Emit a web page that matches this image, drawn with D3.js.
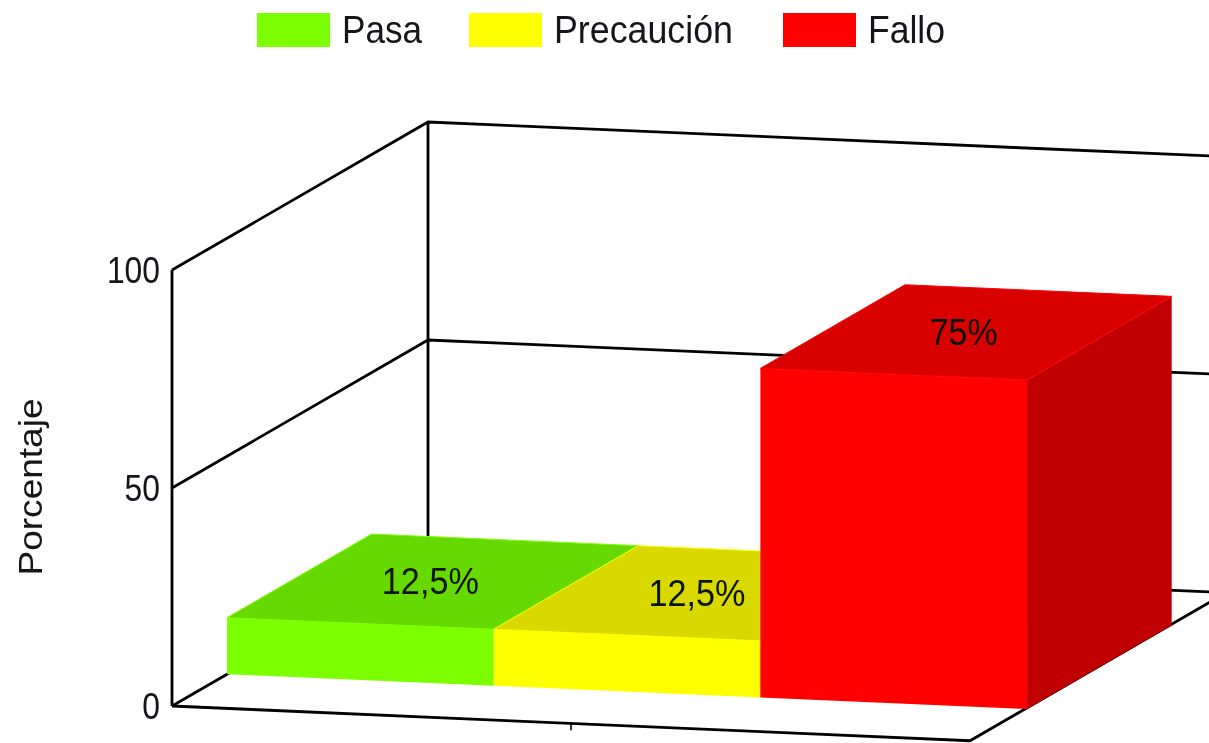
<!DOCTYPE html>
<html lang="es">
<head>
  <meta charset="utf-8">
  <title>Porcentaje</title>
  <script src="https://d3js.org/d3.v7.min.js"></script>
  <style>
    html, body { margin: 0; background: #fff; overflow: hidden; }
    svg { display: block; filter: blur(0.6px); }
    text { font-family: "Liberation Sans", Arial, sans-serif; fill: #15151c; }
    .frame { stroke: #000; stroke-width: 2.8; fill: none; }
  </style>
</head>
<body>
<script>
  // values
  const categories = ["Pasa", "Precaución", "Fallo"];
  const values = [12.5, 12.5, 75];
  const valueLabels = ["12,5%", "12,5%", "75%"];
  const yTicks = [0, 50, 100];
  const frontColors = ["#7cff00", "#ffff00", "#ff0000"];
  const topColors = ["#66d900", "#d9d900", "#d90000"];
  const sideColors = ["#5ec000", "#c0c000", "#c00000"];

  const width = 1209, height = 743;
  const svg = d3.select("body").append("svg")
    .attr("width", width)
    .attr("height", height);

  // the bars fill the whole floor, one third each
  const xScale = d3.scaleBand().domain(categories).range([0, 800]);
  const yScale = d3.scaleLinear().domain([0, 100]).range([706, 270]);
  const depthX = d3.scaleLinear().domain([0, 1]).range([0, 256]);
  const depthY = d3.scaleLinear().domain([0, 1]).range([0, 148]);

  const originX = 172;
  const skew = 0.0435; // the front edge runs slightly downhill
  const axisEnd = 798;
  const barLift = 2; // tops sit a touch above the scale in the original

  // a = distance along the x axis, v = value, z = depth from 0 to 1
  function project(a, v, z, lift) {
    return [originX + a + depthX(z), yScale(v) + a * skew - depthY(z) - (lift || 0)];
  }
  const path = d3.line();

  // walls and floor
  yTicks.forEach(t => {
    svg.append("path").attr("class", "frame")
      .attr("d", path([project(0, t, 0), project(0, t, 1), project(axisEnd, t, 1)]));
  });
  svg.append("path").attr("class", "frame")
    .attr("d", path([project(0, 0, 0), project(0, 100, 0)]));
  svg.append("path").attr("class", "frame")
    .attr("d", path([project(0, 0, 1), project(0, 100, 1)]));
  svg.append("path").attr("class", "frame")
    .attr("d", path([project(0, 0, 0), project(axisEnd, 0, 0), project(axisEnd, 0, 1)]));

  // tick under the x axis
  const mid = project(axisEnd / 2, 0, 0);
  svg.append("line")
    .attr("x1", mid[0]).attr("y1", mid[1])
    .attr("x2", mid[0]).attr("y2", mid[1] + 7)
    .attr("stroke", "#000").attr("stroke-width", 1.6);

  // y axis labels
  const yAxis = svg.append("g")
    .attr("transform", "translate(" + originX + ",1)")
    .call(d3.axisLeft(yScale).tickValues(yTicks).tickSize(0).tickPadding(12));
  yAxis.select(".domain").remove();
  yAxis.selectAll("text")
    .style("font-family", '"Liberation Sans", Arial, sans-serif')
    .style("font-size", "36px")
    .attr("lengthAdjust", "spacingAndGlyphs")
    .attr("textLength", d => String(d).length * 17.7);

  svg.append("text")
    .attr("transform", "translate(42,487) rotate(-90)")
    .attr("text-anchor", "middle")
    .attr("font-size", 33)
    .attr("lengthAdjust", "spacingAndGlyphs")
    .attr("textLength", 177)
    .text("Porcentaje");

  // bars
  const zFront = 0.215, zBack = 0.78;
  categories.forEach((c, i) => {
    const a0 = xScale(c), a1 = a0 + xScale.bandwidth();
    const v = values[i];
    svg.append("path")
      .attr("fill", sideColors[i])
      .attr("d", path([project(a1, 0, zFront), project(a1, 0, zBack), project(a1, v, zBack, barLift), project(a1, v, zFront, barLift)]) + "Z");
    svg.append("path")
      .attr("fill", frontColors[i])
      .attr("d", path([project(a0, 0, zFront), project(a1, 0, zFront), project(a1, v, zFront, barLift), project(a0, v, zFront, barLift)]) + "Z");
    svg.append("path")
      .attr("fill", topColors[i])
      .attr("stroke", frontColors[i])
      .attr("stroke-width", 1)
      .attr("d", path([project(a0, v, zFront, barLift), project(a1, v, zFront, barLift), project(a1, v, zBack, barLift), project(a0, v, zBack, barLift)]) + "Z");
  });

  // labels on the top faces
  categories.forEach((c, i) => {
    const p = project(xScale(c) + xScale.bandwidth() / 2, values[i], 0.5);
    svg.append("text")
      .attr("x", p[0] - 3)
      .attr("y", p[1] - 2)
      .attr("dy", "0.35em")
      .attr("text-anchor", "middle")
      .attr("font-size", 37)
      .attr("lengthAdjust", "spacingAndGlyphs")
      .attr("textLength", valueLabels[i].length === 3 ? 68 : 97)
      .style("fill", "#0a150a")
      .text(valueLabels[i]);
  });

  // legend
  const legendTextWidths = [80, 179, 77];
  const legendGaps = [47, 50];
  let legendX = 257;
  categories.forEach((c, i) => {
    svg.append("rect")
      .attr("x", legendX).attr("y", 13)
      .attr("width", 73).attr("height", 34)
      .attr("fill", frontColors[i]);
    svg.append("text")
      .attr("x", legendX + 85).attr("y", 43)
      .attr("font-size", 38)
      .attr("lengthAdjust", "spacingAndGlyphs")
      .attr("textLength", legendTextWidths[i])
      .text(c);
    legendX += 85 + legendTextWidths[i] + (legendGaps[i] || 0);
  });
</script>
</body>
</html>
